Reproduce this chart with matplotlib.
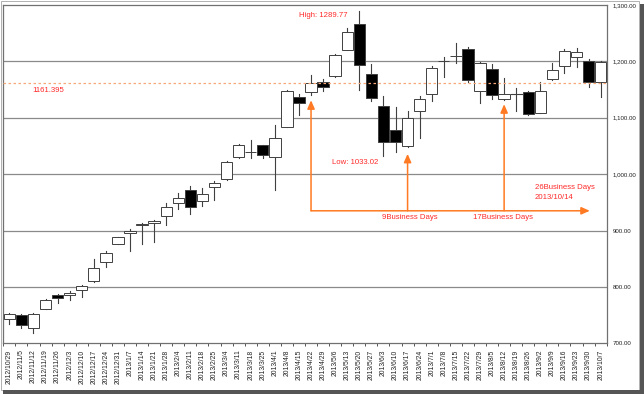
import matplotlib.pyplot as plt
from matplotlib.patches import Rectangle

plt.rcParams['font.family'] = ['Liberation Sans', 'DejaVu Sans']

# weekly bars
dates = ['2012/10/29', '2012/11/5', '2012/11/12', '2012/11/19', '2012/11/26',
         '2012/12/3', '2012/12/10', '2012/12/17', '2012/12/24', '2012/12/31',
         '2013/1/7', '2013/1/14', '2013/1/21', '2013/1/28', '2013/2/4',
         '2013/2/11', '2013/2/18', '2013/2/25', '2013/3/4', '2013/3/11',
         '2013/3/18', '2013/3/25', '2013/4/1', '2013/4/8', '2013/4/15',
         '2013/4/22', '2013/4/29', '2013/5/6', '2013/5/13', '2013/5/20',
         '2013/5/27', '2013/6/3', '2013/6/10', '2013/6/17', '2013/6/24',
         '2013/7/1', '2013/7/8', '2013/7/15', '2013/7/22', '2013/7/29',
         '2013/8/5', '2013/8/12', '2013/8/19', '2013/8/26', '2013/9/2',
         '2013/9/9', '2013/9/16', '2013/9/23', '2013/9/30', '2013/10/7']
opens = [743, 750, 727, 761, 785, 785, 794, 811, 844, 877,
         896, 909, 913, 925, 948, 972, 953, 978, 991, 1030,
         1039, 1051, 1031, 1084, 1137, 1145, 1164, 1174, 1221, 1266,
         1178, 1121, 1078, 1050, 1112, 1143, 1200, 1209, 1222, 1148,
         1186, 1133, 1143, 1145, 1109, 1168, 1191, 1208, 1200, 1164]
highs = [753, 752, 753, 778, 788, 793, 803, 850, 863, 889,
         902, 913, 919, 948, 967, 979, 976, 987, 1023, 1054,
         1061, 1052, 1088, 1149, 1142, 1176, 1169, 1213, 1260, 1289.77,
         1195, 1139, 1119, 1112, 1139, 1191, 1208, 1232, 1225, 1199,
         1195, 1170, 1152, 1147, 1163, 1198, 1222, 1223, 1204, 1201]
lows = [734, 727, 719, 760, 772, 777, 783, 808, 836, 876,
        863, 877, 880, 910, 939, 929, 944, 954, 989, 1028,
        1028, 1028, 972, 1083, 1105, 1140, 1148, 1173, 1220, 1149,
        1129, 1033.02, 1039, 1049, 1065, 1130, 1172, 1198, 1164, 1127,
        1133, 1131, 1112, 1105, 1108, 1167, 1180, 1190, 1155, 1137]
closes = [752, 733, 752, 777, 781, 790, 801, 833, 860, 888,
          899, 912, 917, 942, 958, 942, 964, 984, 1021, 1051,
          1040, 1034, 1065, 1148, 1127, 1161, 1154, 1211, 1253, 1194,
          1135, 1057, 1057, 1099, 1133, 1188, 1201, 1210, 1167, 1197,
          1140, 1143, 1143, 1107, 1147, 1184, 1219, 1217, 1164, 1199]

yticks = [700, 800, 900, 1000, 1100, 1200, 1300]
ref_level = 1161.395
high_val = 1289.77
low_val = 1033.02
arrow_idx = [25, 33, 41]
arrow_tips = [1131, 1036, 1124]
base_level = 935
arrow_end = 48.1
day_labels = ['9Business Days', '17Business Days']

red = '#ff2a2a'
orange = '#ff7a22'

fig = plt.figure(figsize=(6.44, 3.94), dpi=100)
ax = fig.add_axes([3.3 / 644, 1 - 343.3 / 394, 603.4 / 644, 338.3 / 394])

n = len(dates)
w = 0.94
for i in range(n):
    o, h, l, c = opens[i], highs[i], lows[i], closes[i]
    ax.plot([i, i], [l, h], color='#404040', lw=0.8, zorder=3)
    if abs(c - o) < 0.6:
        ax.plot([i - w / 2, i + w / 2], [o, o], color='#404040', lw=0.8, zorder=4)
    else:
        face = 'white' if c > o else 'black'
        ax.add_patch(Rectangle((i - w / 2, min(o, c)), w, abs(c - o),
                               facecolor=face, edgecolor='#404040', lw=0.7, zorder=4))

for v in yticks[1:-1]:
    ax.axhline(v, color='#8a8a8a', lw=0.9, zorder=1)
ax.axhline(ref_level, color='#f6a878', lw=0.9, ls=(0, (2, 2)), zorder=5)

ax.set_xlim(-0.5, n - 0.5)
ax.set_ylim(700, 1300)
ax.set_yticks(yticks)
ax.set_yticklabels([f'{v:,.2f}' for v in yticks])
ax.yaxis.tick_right()
ax.tick_params(axis='y', length=0, pad=4.5, labelsize=4.4, colors='#222222')
ax.set_xticks(range(n))
ax.set_xticklabels(dates, rotation=90, fontsize=4.9)
ax.set_xticks([i - 0.5 for i in range(n + 1)], minor=True)
ax.tick_params(axis='x', which='major', length=0, pad=4.5, colors='#222222')
ax.tick_params(axis='x', which='minor', length=2.5, width=0.7, color='#555555')
for s in ax.spines.values():
    s.set_color('#707070')
    s.set_linewidth(0.9)

# annotations
ax.text(24.0, 1282, f'High: {high_val}', color=red, fontsize=5.6, va='center')
ax.text(1.9, 1149, f'{ref_level}', color=red, fontsize=5.6, va='center')
ax.text(26.7, 1021, f'Low: {low_val}', color=red, fontsize=5.6, va='center')

for xi, tip in zip(arrow_idx, arrow_tips):
    ax.annotate('', xy=(xi, tip), xytext=(xi, base_level),
                arrowprops=dict(arrowstyle='-|>,head_length=0.5,head_width=0.22',
                                color=orange, lw=1.1, shrinkA=0, shrinkB=0), zorder=6)
ax.annotate('', xy=(arrow_end, base_level), xytext=(arrow_idx[0], base_level),
            arrowprops=dict(arrowstyle='-|>,head_length=0.5,head_width=0.22',
                            color=orange, lw=1.1, shrinkA=0, shrinkB=0), zorder=6)

ax.text(30.85, 924, day_labels[0], color=red, fontsize=5.6, va='center')
ax.text(38.4, 924, day_labels[1], color=red, fontsize=5.6, va='center')
ax.text(43.55, 977, '26Business Days', color=red, fontsize=5.6, va='center')
ax.text(43.55, 958, '2013/10/14', color=red, fontsize=5.6, va='center')

# picture frame with shadow
fig.patches.append(Rectangle((0.5 / 644, 4 / 394), 638.5 / 644, 389.5 / 394,
                             transform=fig.transFigure, fill=False,
                             edgecolor='#b0b0b0', lw=0.7))
fig.patches.append(Rectangle((3 / 644, 0), 641 / 644, 4 / 394,
                             transform=fig.transFigure, color='#555555', lw=0))
fig.patches.append(Rectangle((640 / 644, 0), 4 / 644, 390 / 394,
                             transform=fig.transFigure, color='#555555', lw=0))

fig.savefig('out.png', dpi=100)
